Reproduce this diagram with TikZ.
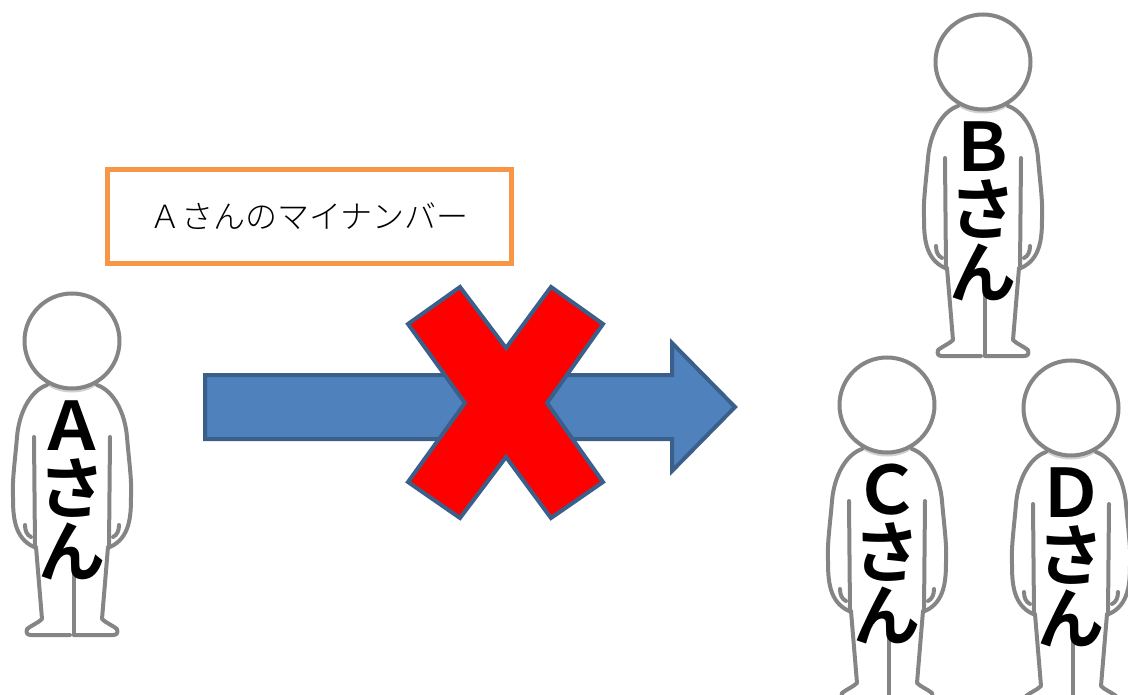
\documentclass[tikz,border=0pt]{standalone}
\usepackage{fontspec}
\newfontfamily\cjkthin[UprightFont={* Light}]{Noto Sans CJK JP}
\newfontfamily\cjkbold[UprightFont={* Bold}]{Noto Sans CJK JP}
\definecolor{personline}{HTML}{858585}
\definecolor{arrowfill}{HTML}{4F81BD}
\definecolor{arrowline}{HTML}{3A5F8B}
\definecolor{boxline}{HTML}{F79646}
\tikzset{
  personstroke/.style={personline,line width=4pt,line cap=round,line join=round},
  person/.pic={
    \fill[black!18] (-25,44) .. controls (-12,54) and (12,54) .. (25,44) -- (0,30) -- cycle;
    \foreach \side in {1,-1} {
      \begin{scope}[xscale=\side]
        \draw[personstroke]
          (25,44) .. controls (42,50) and (53,72) .. (55,96)
          .. controls (57,120) and (60,140) .. (59,156)
          .. controls (59,175) and (58,197) .. (38,206);
        \draw[personstroke] (38,96) -- (37,206);
        \draw[personstroke] (47,184) .. controls (47,190) and (45,194) .. (41,196);
        \draw[personstroke]
          (36,206) -- (30,278) .. controls (34,282) and (40,284) .. (45,288)
          .. controls (46,292) and (45,294) .. (41,294) -- (2,294);
      \end{scope}
    }
    \draw[personstroke] (2,233) -- (2,294);
    \node[circle,draw=personline,fill=white,line width=4pt,minimum size=95pt,inner sep=0pt] (-head) at (0,0) {};
    \node[align=center,inner sep=0pt,font=\cjkbold\fontsize{67}{63}\selectfont] (-label) at (0,149) {#1\\さ\\ん};
  }
}
\begin{document}
\begin{tikzpicture}[x=1pt,y=-1pt]
    \useasboundingbox (0,0) rectangle (1128,695);
    \clip (0,0) rectangle (1128,695);

    \pic (personA) at (72,341) {person=Ａ};
    \pic (personB) at (983,62) {person=Ｂ};
    \pic (personC) at (887,405) {person=Ｃ};
    \pic (personD) at (1071,408) {person=Ｄ};

    \node[draw=boxline,line width=5pt,minimum width=404pt,minimum height=94pt,inner sep=0pt,
      font=\cjkthin\fontsize{32}{32}\selectfont] (numberbox) at (309,216.5) {Ａさんのマイナンバー};

    \draw[arrowline,fill=arrowfill,line width=4pt,miter limit=10]
      (205,375) -- (672,375) -- (672,343) -- (735,407) -- (672,471) -- (672,439) -- (205,439) -- cycle;

    \draw[arrowline,fill=red,line width=4pt,miter limit=10]
      (460,287) -- (506,348) -- (551,287) -- (603,324) -- (547,403) -- (603,482) -- (551,518)
      -- (506,457) -- (460,518) -- (408,482) -- (465,403) -- (408,324) -- cycle;

\end{tikzpicture}
\end{document}
